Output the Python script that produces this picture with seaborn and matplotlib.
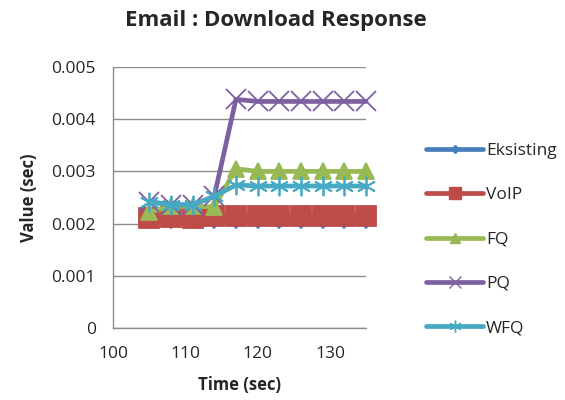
import matplotlib
matplotlib.use("Agg")
import matplotlib.pyplot as plt
from matplotlib.lines import Line2D
import seaborn as sns
import pandas as pd

# Simulation time (sec)
time = [105, 108, 111, 114, 117, 120, 123, 126, 129, 132, 135]

# Email download response per queueing scheme (sec)
eksisting = [0.00205, 0.00205, 0.00205, 0.00205, 0.00205, 0.00205, 0.00205, 0.00205, 0.00205, 0.00205, 0.00205]
voip = [0.00210, 0.00213, 0.00210, 0.00215, 0.00215, 0.00215, 0.00215, 0.00215, 0.00215, 0.00215, 0.00215]
fq = [0.00222, 0.00233, 0.00233, 0.00232, 0.00305, 0.00300, 0.00300, 0.00300, 0.00300, 0.00300, 0.00300]
pq = [0.00242, 0.00236, 0.00236, 0.00252, 0.00438, 0.00434, 0.00434, 0.00434, 0.00434, 0.00434, 0.00434]
wfq = [0.00242, 0.00236, 0.00236, 0.00252, 0.00274, 0.00272, 0.00272, 0.00272, 0.00272, 0.00272, 0.00272]

series_names = ["Eksisting", "VoIP", "FQ", "PQ", "WFQ"]
series_values = [eksisting, voip, fq, pq, wfq]

y_ticks = [0, 0.001, 0.002, 0.003, 0.004, 0.005]
y_tick_labels = ["0", "0.001", "0.002", "0.003", "0.004", "0.005"]
x_ticks = [100, 110, 120, 130]

colors = ["#4A7EBB", "#BE4B48", "#98B954", "#7D60A0", "#46AAC5"]
markers = ["D", "s", "^", "x", (6, 2, 0)]
marker_sizes = [7, 15, 12, 14, 14]

df = pd.DataFrame(
    [(t, v, name) for name, vals in zip(series_names, series_values) for t, v in zip(time, vals)],
    columns=["Time", "Value", "Series"],
)

sns.set_style("white")
plt.rcParams["font.family"] = ["Open Sans", "DejaVu Sans"]

fig = plt.figure(figsize=(5.65, 4.0), dpi=100)
ax = fig.add_axes([0.2, 0.18, 0.448, 0.6525])

for name, col, mk, ms in zip(series_names, colors, markers, marker_sizes):
    sub = df[df["Series"] == name]
    sns.lineplot(
        data=sub, x="Time", y="Value", ax=ax, color=col, linewidth=3.4,
        marker=mk, markersize=ms, markeredgecolor=col, markerfacecolor=col,
        markeredgewidth=1.3, label=name, legend=False, clip_on=False,
    )

ax.set_xlim(100, 135)
ax.set_ylim(0, 0.005)
ax.set_xticks(x_ticks)
ax.set_xticklabels([str(t) for t in x_ticks], fontsize=12.5)
ax.set_yticks(y_ticks)
ax.set_yticklabels(y_tick_labels, fontsize=12.5)

ax.grid(axis="y", color="#8C8C8C", linewidth=1.0)
ax.grid(axis="x", visible=False)
ax.set_axisbelow(True)
for side in ["top", "right"]:
    ax.spines[side].set_visible(False)
for side in ["left", "bottom"]:
    ax.spines[side].set_color("#8C8C8C")
    ax.spines[side].set_linewidth(1.0)
ax.tick_params(axis="both", direction="out", length=4.3, color="#8C8C8C", width=1.0)
ax.tick_params(axis="x", pad=9)
ax.tick_params(axis="y", pad=8)

ax.set_xlabel("Time (sec)", fontsize=12, fontweight="bold", labelpad=10)
ax.set_ylabel("Value (sec)", fontsize=12, fontweight="bold", labelpad=10)
fig.text(0.489, 0.948, "Email : Download Response", ha="center", va="center",
         fontsize=16, fontweight="bold")

handles = [
    Line2D([0], [0], color=c, linewidth=3.4, marker=m, markersize=s * 0.6,
           markeredgecolor=c, markerfacecolor=c)
    for c, m, s in zip(colors, markers, marker_sizes)
]
fig.legend(handles, series_names, loc="upper left", bbox_to_anchor=(0.742, 0.66),
           frameon=False, fontsize=12.5, handlelength=3.3, handletextpad=0.15,
           labelspacing=1.62, borderaxespad=0)

fig.savefig("out.png", dpi=100)
